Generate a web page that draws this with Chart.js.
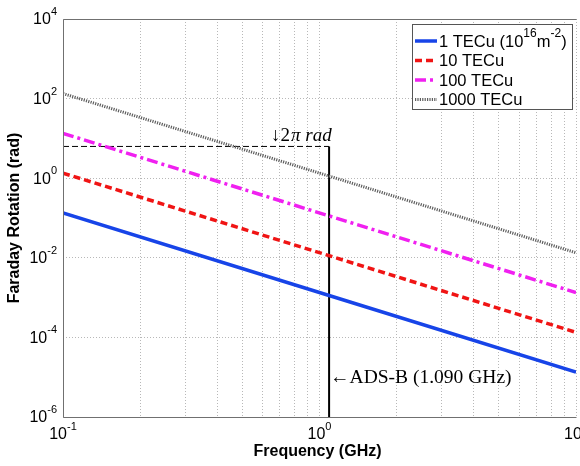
<!DOCTYPE html>
<html>
<head>
<meta charset="utf-8">
<script src="https://cdn.jsdelivr.net/npm/chart.js@4/dist/chart.umd.min.js"></script>
<style>
  html, body { margin: 0; padding: 0; background: #fff; }
  #wrap { width: 580px; height: 466px; }
</style>
</head>
<body>
<div id="wrap"><canvas id="faraday" width="580" height="466"></canvas></div>
<script>
// values
const freqGHz = [0.1, 1.09, 10];
const rot1 = [0.134, 0.00113, 1.34e-5];
const rot10 = [1.34, 0.0113, 1.34e-4];
const rot100 = [13.4, 0.113, 1.34e-3];
const rot1000 = [134, 1.13, 0.0134];
const seriesNames = ['1 TECu', '10 TECu', '100 TECu', '1000 TECu'];

const twoPiFreq = [0.1, 1.09];
const twoPiRad = 6.28;
const adsbFreq = 1.09;
const adsbRange = [6.28, 1e-6];

const xTicks = [0.1, 0.2, 0.3, 0.4, 0.5, 0.6, 0.7, 0.8, 0.9, 1, 2, 3, 4, 5, 6, 7, 8, 9, 10];
const xLabels = [[0.1, '-1'], [1, '0'], [10, '1']];
const yTicks = [1e-6, 1e-4, 1e-2, 1, 1e2, 1e4];
const yLabels = [[1e-6, '-6'], [1e-4, '-4'], [1e-2, '-2'], [1, '0'], [1e2, '2'], [1e4, '4']];

const pts = (xs, ys) => xs.map((x, i) => ({ x, y: ys[i] }));

const styles = [
  { color: '#1744e8', width: 3.5, dash: [] },
  { color: '#f01414', width: 3.5, dash: [7, 4] },
  { color: '#f020f0', width: 3.5, dash: [11, 4, 3, 4] },
  { color: '#5e5e5e', width: 3, dash: [1.2, 1.2] },
];
const seriesData = [rot1, rot10, rot100, rot1000];

const datasets = seriesData.map((vals, i) => ({
  label: seriesNames[i],
  data: pts(freqGHz, vals),
  borderColor: styles[i].color,
  borderWidth: styles[i].width,
  borderDash: styles[i].dash,
  pointRadius: 0,
  showLine: true,
  fill: false,
}));
datasets.push({
  label: '2pi',
  data: pts(twoPiFreq, [twoPiRad, twoPiRad]),
  borderColor: '#000',
  borderWidth: 1,
  borderDash: [6, 3],
  pointRadius: 0,
  showLine: true,
});
datasets.push({
  label: 'adsb',
  data: pts([adsbFreq, adsbFreq], adsbRange),
  borderColor: '#000',
  borderWidth: 2,
  pointRadius: 0,
  showLine: true,
});

const SANS = '"Liberation Sans", Arial, sans-serif';
const SERIF = '"Liberation Serif", "Times New Roman", serif';

// "10" with a raised exponent, like matlab ticks
const drawPow = (ctx, exp, x, y, align) => {
  ctx.font = `16px ${SANS}`;
  const wb = ctx.measureText('10').width;
  ctx.font = `11px ${SANS}`;
  const we = ctx.measureText(exp).width;
  let left = x;
  if (align === 'right') left = x - wb - we;
  if (align === 'center') left = x - (wb + we) / 2;
  ctx.textAlign = 'left';
  ctx.textBaseline = 'middle';
  ctx.font = `16px ${SANS}`;
  ctx.fillText('10', left, y);
  ctx.font = `11px ${SANS}`;
  ctx.fillText(exp, left + wb, y - 8);
};

const decorPlugin = {
  id: 'decor',
  afterDraw(chart) {
    const { ctx, chartArea: a, scales } = chart;
    const xs = scales.x;
    const ys = scales.y;
    ctx.save();
    ctx.fillStyle = '#000';

    // axes box
    ctx.strokeStyle = '#707070';
    ctx.lineWidth = 1;
    ctx.setLineDash([]);
    ctx.beginPath();
    ctx.moveTo(a.left + 0.5, a.top + 0.5);
    ctx.lineTo(a.left + 0.5, a.bottom + 0.5);
    ctx.lineTo(a.right + 0.5, a.bottom + 0.5);
    ctx.moveTo(a.left + 0.5, a.top + 0.5);
    ctx.lineTo(a.right + 0.5, a.top + 0.5);
    ctx.stroke();

    // tick labels
    yLabels.forEach(([v, e]) => drawPow(ctx, e, a.left - 6, ys.getPixelForValue(v) + 1, 'right'));
    xLabels.forEach(([v, e]) => drawPow(ctx, e, xs.getPixelForValue(v), a.bottom + 18, 'center'));

    // axis titles
    ctx.font = `bold 16px ${SANS}`;
    ctx.textAlign = 'center';
    ctx.textBaseline = 'middle';
    ctx.fillText('Frequency (GHz)', (a.left + a.right) / 2 - 2, a.bottom + 35);
    ctx.save();
    ctx.translate(15, (a.top + a.bottom) / 2);
    ctx.rotate(-Math.PI / 2);
    ctx.fillText('Faraday Rotation (rad)', 0, 0);
    ctx.restore();

    // annotations
    const xa = xs.getPixelForValue(adsbFreq);
    const y2pi = ys.getPixelForValue(twoPiRad);
    ctx.textAlign = 'left';
    ctx.textBaseline = 'alphabetic';
    let tx = xa - 58;
    ctx.font = `19px ${SERIF}`;
    ctx.fillText('\u21932', tx, y2pi - 5);
    tx += ctx.measureText('\u21932').width;
    ctx.font = `italic 19px ${SERIF}`;
    ctx.fillText('\u03c0 rad', tx + 1, y2pi - 5);

    ctx.font = `19.5px ${SERIF}`;
    ctx.fillText('\u2190ADS-B (1.090 GHz)', xa + 1, 383);

    // legend
    const lx = 412, ly = 24, lw = 160, lh = 85;
    ctx.fillStyle = '#fff';
    ctx.fillRect(lx, ly, lw, lh);
    ctx.strokeStyle = '#555';
    ctx.lineWidth = 1;
    ctx.strokeRect(lx + 0.5, ly + 0.5, lw, lh);
    chart.data.datasets.slice(0, 4).forEach((ds, i) => {
      const ry = ly + 17 + i * 19.5;
      ctx.strokeStyle = ds.borderColor;
      ctx.lineWidth = ds.borderWidth;
      ctx.setLineDash(ds.borderDash);
      ctx.beginPath();
      ctx.moveTo(lx + 3, ry);
      ctx.lineTo(lx + 25, ry);
      ctx.stroke();
      ctx.setLineDash([]);
      ctx.fillStyle = '#000';
      ctx.textBaseline = 'middle';
      ctx.font = `16.5px ${SANS}`;
      let px = lx + 27;
      ctx.fillText(ds.label, px, ry + 1);
      if (i === 0) {
        const parts = [[' (10', false], ['16', true], ['m', false], ['-2', true], [')', false]];
        px += ctx.measureText(ds.label).width;
        parts.forEach(([t, sup]) => {
          ctx.font = sup ? `12px ${SANS}` : `16.5px ${SANS}`;
          ctx.fillText(t, px, sup ? ry - 7 : ry + 1);
          px += ctx.measureText(t).width;
        });
      }
    });
    ctx.restore();
  },
};

new Chart(document.getElementById('faraday'), {
  type: 'scatter',
  data: { datasets },
  options: {
    responsive: false,
    animation: false,
    layout: { padding: { top: 19, right: 4, left: 0, bottom: 0 } },
    plugins: { legend: { display: false }, tooltip: { enabled: false } },
    scales: {
      x: {
        type: 'logarithmic',
        min: 0.1,
        max: 10,
        afterBuildTicks: (s) => { s.ticks = xTicks.map((v) => ({ value: v })); },
        afterFit: (s) => { s.height = 49; },
        ticks: { display: false },
        grid: { color: '#b8b8b8', lineWidth: 1, drawTicks: false },
        border: { display: false, dash: [1, 2] },
      },
      y: {
        type: 'logarithmic',
        min: 1e-6,
        max: 1e4,
        afterBuildTicks: (s) => { s.ticks = yTicks.map((v) => ({ value: v })); },
        afterFit: (s) => { s.width = 63; },
        ticks: { display: false },
        grid: { color: '#b8b8b8', lineWidth: 1, drawTicks: false },
        border: { display: false, dash: [1, 2] },
      },
    },
  },
  plugins: [decorPlugin],
});
</script>
</body>
</html>
